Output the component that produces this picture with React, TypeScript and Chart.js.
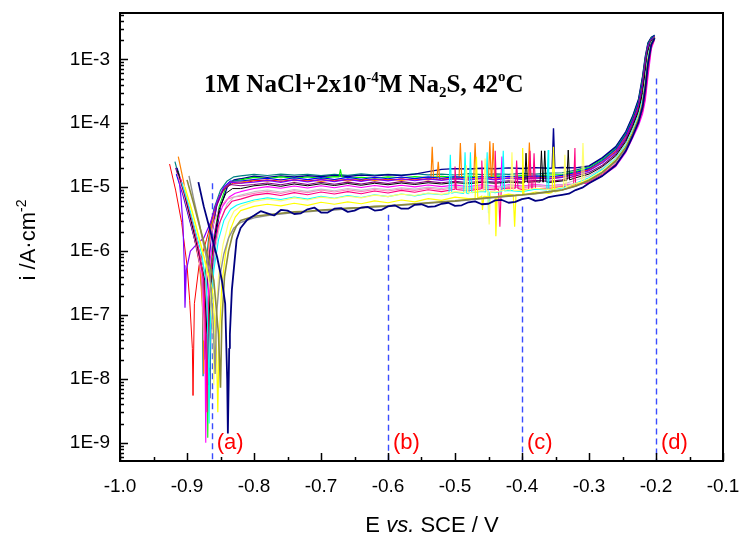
import React, { useEffect, useRef } from "react";
import { Chart, registerables } from "chart.js";

Chart.register(...registerables);

// ---------------- axes ----------------
const X_MIN = -1.0;
const X_MAX = -0.1;
const Y_MIN = 5.2e-10;
const Y_MAX = 5.3e-3;
const X_TICKS = [-1.0, -0.9, -0.8, -0.7, -0.6, -0.5, -0.4, -0.3, -0.2, -0.1];
const Y_TICKS = [1e-9, 1e-8, 1e-7, 1e-6, 1e-5, 1e-4, 1e-3];

// ---------------- texts ----------------
const X_TITLE = ["E ", "vs.", " SCE / V"];
const Y_TITLE = ["i /A·cm", "-2"];
const CHART_TITLE = ["1M NaCl+2x10", "-4", "M Na", "2", "S, 42", "o", "C"];

// dashed markers
const MARKER_E = [-0.863, -0.6, -0.4, -0.2];
const MARKER_TOP = [1.15e-5, 3.7e-6, 5e-6, 5e-4];
const MARKER_LABELS = ["(a)", "(b)", "(c)", "(d)"];

// ---------------- data (current in µA·cm⁻², potential in V) ----------------
const UA = 1e-6;
const E_PASSIVE = [-0.82, -0.80, -0.78, -0.76, -0.74, -0.72, -0.70, -0.68, -0.66, -0.64, -0.62, -0.60, -0.58, -0.56, -0.54, -0.52, -0.50, -0.48, -0.46, -0.44, -0.42, -0.40, -0.38, -0.36, -0.34, -0.32, -0.30];
const E_RISE = [-0.28, -0.26, -0.245, -0.235, -0.226, -0.22, -0.216, -0.212, -0.207, -0.202];

const NAVY_LOW_CATH = [[-0.883, 12], [-0.875, 5], [-0.865, 2], [-0.855, 0.8], [-0.848, 0.35], [-0.843, 0.15], [-0.840, 0.01], [-0.839, 0.0014], [-0.837, 0.03], [-0.836, 0.05], [-0.833, 0.25], [-0.826, 1.5]];
const NAVY_LOW_PASS = [2.3, 3.6, 3.9, 4.4, 3.8, 4.5, 4.0, 4.6, 4.1, 4.8, 4.3, 5.0, 4.6, 5.3, 4.9, 5.5, 5.1, 5.8, 5.4, 6.2, 5.7, 6.5, 6.1, 7.0, 7.6, 9.0, 11.5];
const NAVY_LOW_EXTRA = [[-0.81, 3.1], [-0.79, 4.2], [-0.77, 3.6], [-0.75, 4.3], [-0.73, 3.9], [-0.71, 4.8], [-0.69, 4.0], [-0.67, 4.7], [-0.65, 4.3], [-0.63, 4.9], [-0.61, 4.4], [-0.59, 5.2], [-0.57, 4.6], [-0.55, 5.4], [-0.53, 5.0], [-0.51, 5.7], [-0.49, 5.2], [-0.47, 6.0], [-0.45, 5.5], [-0.43, 6.3], [-0.41, 5.9], [-0.39, 6.8], [-0.37, 6.3], [-0.35, 7.3], [-0.33, 7.9], [-0.31, 9.8]];
const NAVY_LOW_RISE = [15, 22, 37, 62, 105, 180, 340, 850, 1700, 2150];

const OLIVE_CATH = [[-0.900, 13], [-0.890, 5.5], [-0.880, 2.2], [-0.870, 0.9], [-0.860, 0.35], [-0.853, 0.05], [-0.850, 0.0073], [-0.848, 0.08], [-0.844, 0.4], [-0.838, 1.0], [-0.832, 1.8], [-0.826, 2.5]];
const OLIVE_PASS = [3.0, 3.5, 3.7, 3.9, 4.1, 4.2, 4.4, 4.5, 4.7, 4.8, 5.0, 5.1, 5.3, 5.5, 5.7, 5.9, 6.1, 6.4, 6.7, 7.0, 7.3, 7.6, 8.0, 8.5, 9.1, 10.4, 12.8];
const OLIVE_RISE = [17, 26, 42, 69, 117, 200, 390, 920, 1750, 2200];

const GRAY_CATH = [[-0.897, 15], [-0.890, 6.5], [-0.882, 2.8], [-0.874, 1.1], [-0.866, 0.45], [-0.861, 0.08], [-0.858, 0.012], [-0.856, 0.1], [-0.851, 0.4], [-0.845, 0.9], [-0.838, 1.6], [-0.830, 2.3]];
const GRAY_PASS = [2.8, 3.3, 3.6, 3.8, 4.0, 4.1, 4.3, 4.4, 4.6, 4.7, 4.9, 5.0, 5.2, 5.4, 5.6, 5.8, 6.0, 6.3, 6.6, 6.9, 7.2, 7.5, 7.9, 8.4, 9.0, 10.3, 12.5];
const GRAY_RISE = [17, 25, 41, 68, 115, 195, 380, 900, 1700, 2150];

const YELLOW_CATH = [[-0.903, 10], [-0.893, 4.5], [-0.883, 1.8], [-0.873, 0.7], [-0.862, 0.25], [-0.856, 0.03], [-0.854, 0.003], [-0.852, 0.04], [-0.848, 0.3], [-0.842, 1.0], [-0.835, 2.2], [-0.828, 3.4]];
const YELLOW_PASS = [4.3, 5.0, 5.4, 5.1, 5.6, 5.2, 5.8, 5.4, 5.9, 5.5, 6.1, 5.7, 6.3, 5.9, 6.6, 6.2, 7.0, 6.6, 7.4, 7.0, 7.8, 7.5, 8.4, 8.0, 9.0, 10.8, 13.0];
const YELLOW_SPIKES = [[-0.470, 6.7], [-0.468, 30], [-0.466, 6.8], [-0.461, 7.1], [-0.459, 4.4], [-0.457, 7.2], [-0.441, 7.0], [-0.439, 1.7], [-0.437, 7.1], [-0.413, 7.6], [-0.411, 2.4], [-0.409, 7.6], [-0.401, 7.5], [-0.399, 41], [-0.397, 7.6], [-0.355, 8.3], [-0.353, 43], [-0.351, 8.4]];
const YELLOW_RISE = [17, 26, 42, 70, 118, 200, 400, 950, 1750, 2100];

const LIGHT_YELLOW_CATH = [[-0.905, 11], [-0.895, 5], [-0.885, 2.0], [-0.875, 0.8], [-0.866, 0.3], [-0.861, 0.05], [-0.860, 0.008], [-0.858, 0.06], [-0.853, 0.4], [-0.846, 1.3], [-0.838, 2.8], [-0.830, 4.2]];
const LIGHT_YELLOW_PASS = [5.0, 6.0, 6.5, 6.1, 6.8, 6.3, 7.0, 6.6, 7.2, 6.8, 7.5, 7.1, 7.8, 7.4, 8.1, 7.7, 8.5, 8.1, 8.8, 8.4, 9.2, 8.8, 9.6, 9.2, 10.0, 11.5, 13.5];
const LIGHT_YELLOW_SPIKES = [[-0.485, 8.2], [-0.483, 22], [-0.481, 8.3], [-0.457, 8.7], [-0.455, 28], [-0.453, 8.7], [-0.451, 8.6], [-0.449, 2.6], [-0.447, 8.5], [-0.417, 9.0], [-0.415, 35], [-0.413, 9.0], [-0.338, 10.0], [-0.336, 32], [-0.334, 10.1], [-0.311, 12.0], [-0.309, 49], [-0.307, 12.5]];
const LIGHT_YELLOW_RISE = [18, 27, 44, 73, 125, 220, 440, 1050, 1800, 2150];

const CYAN_CATH = [[-0.908, 12], [-0.898, 5.5], [-0.888, 2.2], [-0.878, 0.9], [-0.871, 0.3], [-0.868, 0.02], [-0.867, 0.002], [-0.865, 0.08], [-0.860, 0.5], [-0.853, 1.5], [-0.845, 3], [-0.835, 4.5], [-0.826, 5.2]];
const CYAN_PASS = [5.5, 6.3, 6.8, 6.4, 7.0, 6.5, 7.2, 6.7, 7.4, 6.9, 7.6, 7.1, 7.8, 7.3, 8.0, 7.6, 8.3, 7.9, 8.6, 8.2, 8.9, 8.5, 9.3, 8.9, 9.7, 11.5, 14.0];
const CYAN_SPIKES = [[-0.509, 7.9], [-0.507, 32], [-0.505, 8.0], [-0.487, 8.0], [-0.485, 35], [-0.483, 8.1], [-0.479, 8.2], [-0.477, 35], [-0.475, 8.2], [-0.454, 8.4], [-0.452, 35], [-0.450, 3.9], [-0.448, 8.4], [-0.430, 8.6], [-0.428, 37], [-0.426, 8.7], [-0.363, 9.0], [-0.361, 38], [-0.359, 9.1]];
const CYAN_RISE = [19, 28, 46, 77, 135, 240, 480, 1150, 1850, 2150];

const PINK_CATH = [[-0.910, 14], [-0.900, 6], [-0.890, 2.4], [-0.882, 1.0], [-0.875, 0.35], [-0.871, 0.02], [-0.870, 0.003], [-0.868, 0.15], [-0.862, 0.8], [-0.853, 2.5], [-0.843, 4.5], [-0.833, 6]];
const PINK_PASS = [6.5, 7.5, 8.0, 7.4, 8.2, 7.6, 8.4, 7.8, 8.5, 7.9, 8.7, 8.1, 8.9, 8.3, 9.1, 8.5, 9.3, 8.8, 9.5, 9.0, 9.7, 9.2, 9.9, 9.4, 10.2, 10.8, 12.0];
const PINK_SPIKES = [[-0.502, 9.2], [-0.500, 21], [-0.498, 9.2], [-0.462, 9.4], [-0.460, 26], [-0.458, 9.3], [-0.442, 9.1], [-0.440, 37], [-0.438, 9.2], [-0.435, 9.3], [-0.433, 2.4], [-0.431, 9.4], [-0.410, 9.6], [-0.408, 26], [-0.406, 9.5], [-0.390, 9.3], [-0.388, 37], [-0.386, 9.5], [-0.384, 9.6], [-0.382, 34], [-0.380, 9.6], [-0.323, 10.6], [-0.321, 41], [-0.319, 10.7]];
const PINK_RISE = [16, 23, 37, 62, 100, 155, 260, 650, 1550, 2050];

const BLACK_CATH = [[-0.914, 18], [-0.904, 8], [-0.894, 3], [-0.884, 1.1], [-0.875, 0.4], [-0.870, 0.05], [-0.869, 0.008], [-0.867, 0.1], [-0.861, 1.2], [-0.852, 4.5], [-0.842, 8], [-0.832, 9.5]];
const BLACK_PASS = [9.5, 10.5, 11.0, 10.3, 11.2, 10.5, 11.3, 10.6, 11.4, 10.7, 11.5, 10.9, 11.6, 11.0, 11.7, 11.2, 11.8, 11.3, 11.9, 11.5, 12.0, 11.6, 12.2, 11.8, 12.5, 14.0, 16.0];
const BLACK_SPIKES = [[-0.396, 11.8], [-0.394, 34], [-0.392, 11.9], [-0.373, 12.0], [-0.371, 37], [-0.369, 12.0], [-0.368, 12.0], [-0.366, 37], [-0.364, 12.1], [-0.333, 12.8], [-0.331, 38], [-0.329, 13.0]];
const BLACK_RISE = [21, 31, 52, 88, 155, 300, 650, 1350, 1950, 2200];

const LIGHT_GRAY_CATH = [[-0.911, 15], [-0.901, 6.5], [-0.891, 2.5], [-0.881, 0.9], [-0.872, 0.35], [-0.868, 0.05], [-0.867, 0.015], [-0.865, 0.12], [-0.859, 0.9], [-0.850, 3], [-0.840, 5.5], [-0.830, 7]];
const LIGHT_GRAY_PASS = [7.5, 8.5, 9.0, 8.4, 9.2, 8.6, 9.3, 8.8, 9.5, 8.9, 9.6, 9.1, 9.8, 9.3, 10.0, 9.5, 10.2, 9.7, 10.4, 9.9, 10.6, 10.1, 10.8, 10.3, 11.0, 12.8, 15.0];
const LIGHT_GRAY_RISE = [20, 30, 49, 82, 145, 270, 560, 1250, 1900, 2150];

const LIGHT_MAGENTA_CATH = [[-0.914, 16], [-0.904, 7], [-0.894, 2.8], [-0.885, 1.1], [-0.878, 0.4], [-0.875, 0.04], [-0.874, 0.1], [-0.869, 0.9], [-0.860, 2.8], [-0.850, 5], [-0.840, 6.5], [-0.830, 7]];
const LIGHT_MAGENTA_PASS = [7.2, 8.0, 8.6, 8.0, 8.8, 8.2, 9.0, 8.4, 9.1, 8.5, 9.2, 8.7, 9.4, 8.9, 9.6, 9.1, 9.8, 9.3, 10.0, 9.5, 10.2, 9.7, 10.4, 9.9, 10.6, 11.2, 12.5];
const LIGHT_MAGENTA_RISE = [17, 25, 40, 66, 110, 180, 320, 800, 1650, 2100];

const MAGENTA_CATH = [[-0.912, 15], [-0.902, 6.5], [-0.892, 2.5], [-0.882, 0.9], [-0.876, 0.3], [-0.873, 0.02], [-0.872, 0.001], [-0.870, 0.1], [-0.865, 0.8], [-0.857, 2.5], [-0.847, 5], [-0.837, 7], [-0.828, 8]];
const MAGENTA_PASS = [8.5, 9.5, 10.2, 9.6, 10.4, 9.7, 10.5, 9.8, 10.6, 9.9, 10.6, 10.0, 10.7, 10.1, 10.8, 10.2, 10.8, 10.2, 10.9, 10.3, 10.9, 10.4, 11.0, 10.5, 11.0, 11.2, 11.5];
const MAGENTA_SPIKES = [[-0.432, 10.4], [-0.430, 30], [-0.428, 10.5]];
const MAGENTA_RISE = [15, 21, 35, 58, 92, 140, 225, 520, 1450, 2050];

const PURPLE_CATH = [[-0.917, 20], [-0.907, 9], [-0.897, 3.5], [-0.887, 1.3], [-0.878, 0.45], [-0.874, 0.06], [-0.873, 0.02], [-0.871, 0.2], [-0.865, 1.5], [-0.856, 5], [-0.846, 9], [-0.836, 11]];
const PURPLE_PASS = [10.5, 11.0, 11.6, 10.9, 11.8, 11.0, 11.9, 11.1, 12.0, 11.2, 12.1, 11.4, 12.2, 11.5, 12.3, 11.7, 12.4, 11.8, 12.5, 12.0, 12.6, 12.1, 12.8, 12.3, 13.0, 15.0, 17.0];
const PURPLE_RISE = [22, 33, 55, 94, 165, 330, 720, 1400, 1950, 2200];

const VIOLET_CATH = [[-0.913, 17], [-0.909, 7], [-0.906, 2.5], [-0.904, 0.6], [-0.903, 0.13], [-0.901, 0.5], [-0.895, 1.0], [-0.885, 1.3], [-0.875, 1.6], [-0.865, 2.8], [-0.855, 6], [-0.845, 10], [-0.835, 12]];
const VIOLET_PASS = [11.5, 12.0, 12.8, 11.9, 13.0, 12.1, 13.1, 12.2, 13.2, 12.3, 13.3, 12.5, 13.4, 12.6, 13.5, 12.8, 13.6, 12.9, 13.7, 13.0, 13.8, 13.2, 14.0, 13.4, 14.2, 15.8, 18.0];
const VIOLET_RISE = [24, 35, 58, 100, 175, 360, 800, 1500, 2000, 2250];

const RED_CATH = [[-0.926, 23], [-0.917, 9], [-0.908, 2.8], [-0.900, 0.6], [-0.896, 0.17], [-0.892, 0.03], [-0.891, 0.0055], [-0.889, 0.15], [-0.882, 0.6], [-0.871, 1.5], [-0.861, 3.8], [-0.851, 7.5], [-0.841, 10], [-0.831, 11.5]];
const RED_PASS = [11.5, 12.5, 13.0, 12.3, 13.1, 12.4, 13.2, 12.5, 13.3, 12.6, 13.4, 12.8, 13.5, 12.9, 13.6, 13.0, 13.7, 13.1, 13.8, 13.3, 13.9, 13.4, 14.0, 13.6, 14.3, 16.0, 18.5];
const RED_RISE = [24, 36, 60, 104, 185, 390, 850, 1550, 2050, 2250];

const BLUE_CATH = [[-0.916, 16], [-0.906, 7.5], [-0.896, 3], [-0.886, 1.2], [-0.877, 0.4], [-0.873, 0.03], [-0.871, 0.25], [-0.864, 1.6], [-0.855, 5.5], [-0.845, 10], [-0.835, 12.5]];
const BLUE_PASS = [12.5, 13.2, 13.8, 12.9, 14.0, 13.1, 14.1, 13.2, 14.2, 13.3, 14.3, 13.5, 14.4, 13.6, 14.5, 13.8, 14.6, 13.9, 14.7, 14.0, 14.8, 14.2, 15.0, 14.4, 15.3, 17.0, 19.5];
const BLUE_RISE = [26, 39, 66, 112, 205, 450, 950, 1650, 2100, 2300];

const ORANGE_CATH = [[-0.913, 30], [-0.905, 12], [-0.897, 4.5], [-0.889, 1.6], [-0.881, 0.6], [-0.876, 0.1], [-0.875, 0.012], [-0.873, 0.3], [-0.866, 1.8], [-0.857, 5], [-0.847, 9], [-0.836, 12]];
const ORANGE_PASS = [12.0, 13.0, 12.4, 13.2, 12.6, 13.0, 12.3, 13.1, 12.5, 13.2, 12.7, 13.3, 12.8, 13.6, 13.0, 13.8, 13.2, 14.0, 13.4, 14.1, 13.6, 14.2, 13.8, 14.4, 14.6, 16.5, 19.0];
const ORANGE_SPIKES = [[-0.536, 13.2], [-0.534, 43], [-0.532, 13.4], [-0.527, 13.5], [-0.525, 25], [-0.523, 13.6], [-0.494, 13.6], [-0.492, 49], [-0.490, 13.8], [-0.472, 13.8], [-0.470, 49], [-0.468, 13.7], [-0.450, 13.8], [-0.448, 52], [-0.446, 13.9], [-0.445, 14.0], [-0.443, 49], [-0.441, 14.0], [-0.391, 14.0], [-0.389, 50], [-0.387, 14.1]];
const ORANGE_RISE = [25, 37, 63, 108, 195, 420, 900, 1600, 2050, 2250];

const GREEN_CATH = [[-0.914, 18], [-0.904, 8], [-0.894, 3], [-0.884, 1.1], [-0.876, 0.4], [-0.870, 0.05], [-0.869, 0.0012], [-0.867, 0.15], [-0.862, 1.2], [-0.852, 5], [-0.842, 10], [-0.832, 12.5]];
const GREEN_PASS = [13.0, 14.2, 13.6, 14.5, 13.8, 14.4, 13.7, 14.6, 13.9, 14.3, 13.8, 14.5, 14.0, 14.6, 14.1, 14.8, 14.2, 14.9, 14.4, 15.0, 14.6, 15.2, 14.8, 15.5, 15.8, 17.5, 20.0];
const GREEN_SPIKES = [[-0.673, 14.5], [-0.671, 19], [-0.669, 14.5]];
const GREEN_RISE = [27, 40, 68, 118, 215, 480, 1000, 1700, 2150, 2300];

const NAVY_TOP_CATH = [[-0.915, 20], [-0.905, 9], [-0.895, 3.5], [-0.885, 1.3], [-0.875, 0.5], [-0.868, 0.1], [-0.866, 0.005], [-0.864, 0.2], [-0.858, 1.5], [-0.850, 5], [-0.840, 10], [-0.830, 13]];
const NAVY_TOP_PASS = [13.5, 14.8, 14.2, 15.0, 14.4, 15.1, 14.6, 15.2, 14.7, 15.4, 15.0, 15.6, 15.2, 16.0, 17.5, 19.0, 19.5, 19.2, 19.8, 19.4, 20.0, 19.6, 20.2, 19.8, 20.3, 20.0, 21.5];
const NAVY_TOP_SPIKES = [[-0.355, 19.9], [-0.353, 83], [-0.351, 20.0]];
const NAVY_TOP_RISE = [29, 43, 74, 128, 240, 540, 1100, 1800, 2200, 2350];

const DARK_CYAN_CATH = [[-0.918, 25], [-0.910, 12], [-0.900, 5], [-0.890, 2.0], [-0.882, 0.8], [-0.877, 0.2], [-0.876, 0.011], [-0.874, 0.3], [-0.868, 1.5], [-0.860, 4.5], [-0.850, 9], [-0.840, 12.5], [-0.830, 14.5]];
const DARK_CYAN_PASS = [15.0, 15.8, 15.2, 16.0, 15.4, 15.9, 15.1, 15.8, 15.3, 16.1, 15.5, 15.9, 15.4, 16.2, 15.6, 16.0, 15.5, 16.3, 15.7, 16.1, 15.8, 16.4, 16.0, 16.6, 16.8, 18.5, 21.0];
const DARK_CYAN_RISE = [28, 42, 72, 125, 230, 520, 1050, 1750, 2200, 2400];

// series list (first = drawn on top)
const SERIES = [
  { cath: NAVY_LOW_CATH, pass: NAVY_LOW_PASS, extra: NAVY_LOW_EXTRA, rise: NAVY_LOW_RISE, color: "#000080", width: 1.8 },
  { cath: OLIVE_CATH, pass: OLIVE_PASS, extra: [], rise: OLIVE_RISE, color: "#8a8a3a", width: 1.6 },
  { cath: GRAY_CATH, pass: GRAY_PASS, extra: [], rise: GRAY_RISE, color: "#909090", width: 1.4 },
  { cath: YELLOW_CATH, pass: YELLOW_PASS, extra: YELLOW_SPIKES, rise: YELLOW_RISE, color: "#ffff00", width: 1.2 },
  { cath: LIGHT_YELLOW_CATH, pass: LIGHT_YELLOW_PASS, extra: LIGHT_YELLOW_SPIKES, rise: LIGHT_YELLOW_RISE, color: "#ffff70", width: 1.2 },
  { cath: CYAN_CATH, pass: CYAN_PASS, extra: CYAN_SPIKES, rise: CYAN_RISE, color: "#00ffff", width: 1.1 },
  { cath: PINK_CATH, pass: PINK_PASS, extra: PINK_SPIKES, rise: PINK_RISE, color: "#ff0080", width: 1.1 },
  { cath: BLACK_CATH, pass: BLACK_PASS, extra: BLACK_SPIKES, rise: BLACK_RISE, color: "#000000", width: 1 },
  { cath: LIGHT_GRAY_CATH, pass: LIGHT_GRAY_PASS, extra: [], rise: LIGHT_GRAY_RISE, color: "#c8c0c8", width: 1.1 },
  { cath: LIGHT_MAGENTA_CATH, pass: LIGHT_MAGENTA_PASS, extra: [], rise: LIGHT_MAGENTA_RISE, color: "#ff80c0", width: 1.1 },
  { cath: MAGENTA_CATH, pass: MAGENTA_PASS, extra: MAGENTA_SPIKES, rise: MAGENTA_RISE, color: "#ff00ff", width: 1.1 },
  { cath: PURPLE_CATH, pass: PURPLE_PASS, extra: [], rise: PURPLE_RISE, color: "#800080", width: 1.1 },
  { cath: VIOLET_CATH, pass: VIOLET_PASS, extra: [], rise: VIOLET_RISE, color: "#8000ff", width: 1.2 },
  { cath: RED_CATH, pass: RED_PASS, extra: [], rise: RED_RISE, color: "#ff0000", width: 1 },
  { cath: BLUE_CATH, pass: BLUE_PASS, extra: [], rise: BLUE_RISE, color: "#0000ff", width: 1.1 },
  { cath: ORANGE_CATH, pass: ORANGE_PASS, extra: ORANGE_SPIKES, rise: ORANGE_RISE, color: "#ff8000", width: 1.2 },
  { cath: GREEN_CATH, pass: GREEN_PASS, extra: GREEN_SPIKES, rise: GREEN_RISE, color: "#00f000", width: 1.1 },
  { cath: NAVY_TOP_CATH, pass: NAVY_TOP_PASS, extra: NAVY_TOP_SPIKES, rise: NAVY_TOP_RISE, color: "#000090", width: 1.4 },
  { cath: DARK_CYAN_CATH, pass: DARK_CYAN_PASS, extra: [], rise: DARK_CYAN_RISE, color: "#008080", width: 1.2 },
];

function buildPoints(s: any) {
  const pts: number[][] = [
    ...s.cath,
    ...E_PASSIVE.map((e, k) => [e, s.pass[k]]),
    ...s.extra,
    ...E_RISE.map((e, k) => [e, s.rise[k]]),
  ];
  pts.sort((a, b) => a[0] - b[0]);
  return pts.map(([e, i]) => ({ x: e, y: i * UA }));
}

const SANS = '"Liberation Sans", Arial, Helvetica, sans-serif';
const SERIF = '"Liberation Serif", "Times New Roman", serif';

function drawParts(ctx: CanvasRenderingContext2D, x: number, y: number, parts: { t: string; f: string; dy: number }[]) {
  let cx = x;
  for (const p of parts) {
    ctx.font = p.f;
    ctx.fillText(p.t, cx, y + p.dy);
    cx += ctx.measureText(p.t).width;
  }
}
function partsWidth(ctx: CanvasRenderingContext2D, parts: { t: string; f: string; dy: number }[]) {
  let w = 0;
  for (const p of parts) {
    ctx.font = p.f;
    w += ctx.measureText(p.t).width;
  }
  return w;
}

const overlay = {
  id: "overlay",
  beforeDatasetsDraw(chart: any) {
    const { ctx, chartArea: a, scales } = chart;
    const xs = scales.x, ys = scales.y;
    ctx.save();
    ctx.strokeStyle = "#3a4cff";
    ctx.lineWidth = 1.4;
    ctx.setLineDash([6, 4]);
    MARKER_E.forEach((e, i) => {
      const px = Math.round(xs.getPixelForValue(e)) + 0.5;
      ctx.beginPath();
      ctx.moveTo(px, ys.getPixelForValue(MARKER_TOP[i]));
      ctx.lineTo(px, a.bottom);
      ctx.stroke();
    });
    ctx.restore();
  },
  afterDraw(chart: any) {
    const { ctx, chartArea: a, scales } = chart;
    const xs = scales.x, ys = scales.y;
    ctx.save();
    // frame
    ctx.strokeStyle = "#000";
    ctx.lineWidth = 2;
    ctx.setLineDash([]);
    ctx.strokeRect(a.left, a.top, a.right - a.left, a.bottom - a.top);
    // x ticks (inward)
    ctx.lineWidth = 1.5;
    ctx.beginPath();
    for (let k = 0; k <= 18; k++) {
      const e = X_MIN + k * 0.05;
      const px = Math.round(xs.getPixelForValue(e)) + 0.5;
      const len = k % 2 === 0 ? 8 : 4;
      ctx.moveTo(px, a.bottom);
      ctx.lineTo(px, a.bottom - len);
    }
    // y ticks (inward)
    for (let n = -10; n <= -2; n++) {
      for (let m = 1; m <= 9; m++) {
        const v = m * Math.pow(10, n);
        if (v < Y_MIN || v > Y_MAX) continue;
        const py = Math.round(ys.getPixelForValue(v)) + 0.5;
        const len = m === 1 ? 8 : 4;
        ctx.moveTo(a.left, py);
        ctx.lineTo(a.left + len, py);
      }
    }
    ctx.stroke();

    // marker labels
    ctx.fillStyle = "#ff0000";
    ctx.font = "22px " + SANS;
    ctx.textAlign = "left";
    ctx.textBaseline = "alphabetic";
    MARKER_E.forEach((e, i) => {
      const px = xs.getPixelForValue(e);
      ctx.fillText(MARKER_LABELS[i], px + 5, 449);
    });

    // chart title
    ctx.fillStyle = "#000";
    const bold = "bold 25px " + SERIF;
    const small = "bold 15px " + SERIF;
    drawParts(ctx, 204, 92, [
      { t: CHART_TITLE[0], f: bold, dy: 0 },
      { t: CHART_TITLE[1], f: small, dy: -10 },
      { t: CHART_TITLE[2], f: bold, dy: 0 },
      { t: CHART_TITLE[3], f: small, dy: 5 },
      { t: CHART_TITLE[4], f: bold, dy: 0 },
      { t: CHART_TITLE[5], f: small, dy: -11 },
      { t: CHART_TITLE[6], f: bold, dy: 0 },
    ]);

    // x title
    const xParts = [
      { t: X_TITLE[0], f: "22px " + SANS, dy: 0 },
      { t: X_TITLE[1], f: "italic 22px " + SANS, dy: 0 },
      { t: X_TITLE[2], f: "22px " + SANS, dy: 0 },
    ];
    const xw = partsWidth(ctx, xParts);
    drawParts(ctx, 432 - xw / 2, 532, xParts);

    // y title (rotated)
    const yParts = [
      { t: Y_TITLE[0], f: "22px " + SANS, dy: 0 },
      { t: Y_TITLE[1], f: "14px " + SANS, dy: -9 },
    ];
    const yw = partsWidth(ctx, yParts);
    ctx.translate(35, 240 + yw / 2);
    ctx.rotate(-Math.PI / 2);
    drawParts(ctx, 0, 0, yParts);
    ctx.restore();
  },
};

export default function App() {
  const ref = useRef<HTMLCanvasElement | null>(null);
  useEffect(() => {
    if (!ref.current) return;
    const chart = new Chart(ref.current, {
      type: "line",
      data: {
        datasets: SERIES.map((s) => ({
          data: buildPoints(s),
          borderColor: s.color,
          borderWidth: s.width,
          pointRadius: 0,
          fill: false,
          tension: 0,
          borderJoinStyle: "bevel" as const,
        })),
      },
      options: {
        responsive: false,
        animation: false,
        devicePixelRatio: 1,
        events: [],
        layout: { padding: { left: 0, right: 17, top: 13, bottom: 0 } },
        plugins: { legend: { display: false }, tooltip: { enabled: false }, title: { display: false } },
        scales: {
          x: {
            type: "linear",
            min: X_MIN,
            max: X_MAX,
            afterBuildTicks: (s: any) => {
              s.ticks = X_TICKS.map((v) => ({ value: v }));
            },
            afterFit: (s: any) => {
              s.height = 80;
              s.paddingLeft = 0;
              s.paddingRight = 0;
            },
            grid: { display: false, drawTicks: false },
            border: { display: false },
            ticks: {
              padding: 14,
              color: "#000",
              font: { family: SANS, size: 19 },
              maxRotation: 0,
              autoSkip: false,
              callback: (v: any) => Number(v).toFixed(1),
            },
          },
          y: {
            type: "logarithmic",
            min: Y_MIN,
            max: Y_MAX,
            afterBuildTicks: (s: any) => {
              s.ticks = Y_TICKS.map((v) => ({ value: v }));
            },
            afterFit: (s: any) => {
              s.width = 120;
              s.paddingTop = 0;
              s.paddingBottom = 0;
            },
            grid: { display: false, drawTicks: false },
            border: { display: false },
            ticks: {
              padding: 10,
              color: "#000",
              font: { family: SANS, size: 19 },
              autoSkip: false,
              callback: (v: any) => "1E" + Math.round(Math.log10(Number(v))),
            },
          },
        },
      },
      plugins: [overlay],
    } as any);
    return () => chart.destroy();
  }, []);
  return (
    <div style={{ position: "fixed", left: 0, top: 0, width: 740, height: 541, background: "#fff" }}>
      <canvas ref={ref} width={740} height={541} style={{ display: "block" }} />
    </div>
  );
}
